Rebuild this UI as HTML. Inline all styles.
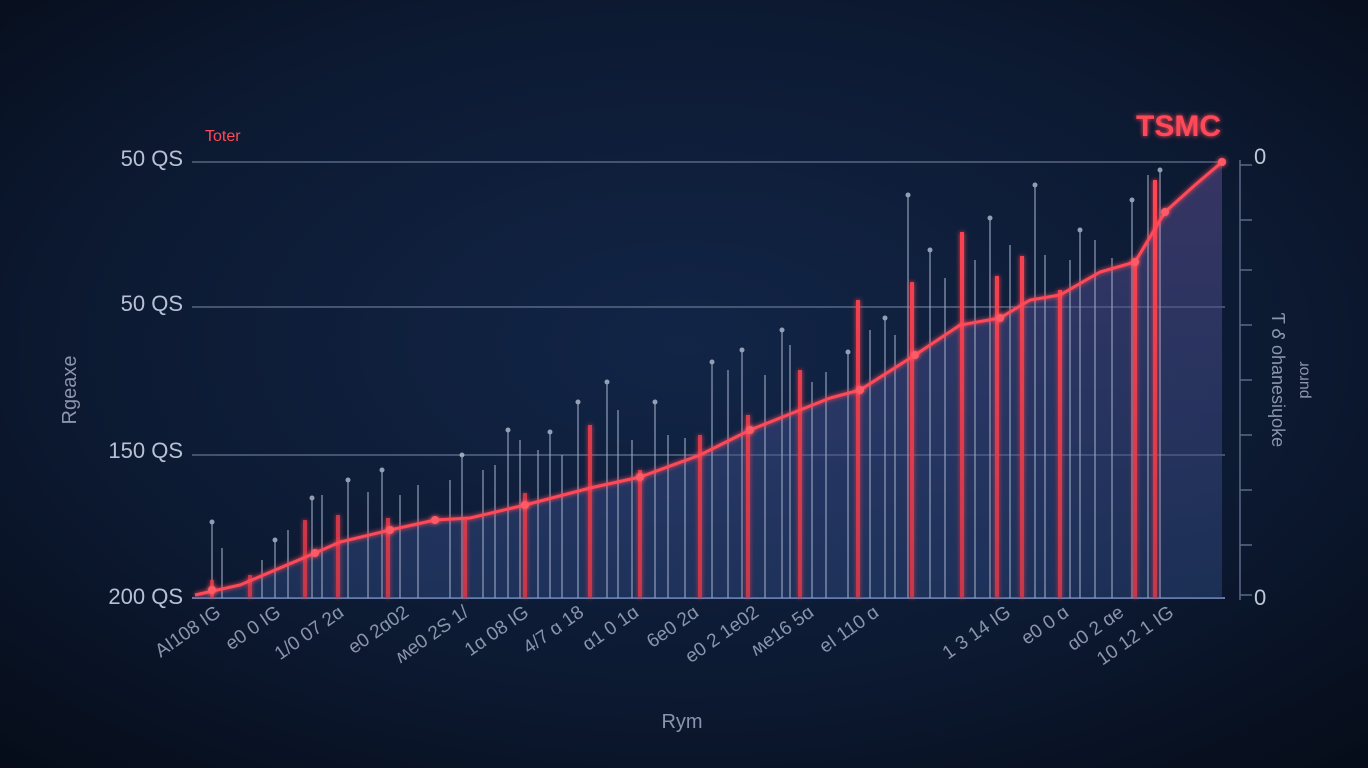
<!DOCTYPE html>
<html><head><meta charset="utf-8"><style>
html,body{margin:0;padding:0;width:1368px;height:768px;overflow:hidden;background:#0a1426}
svg{display:block}
text{font-family:"Liberation Sans",sans-serif}
</style></head><body>
<svg width="1368" height="768" viewBox="0 0 1368 768">
<defs>
<radialGradient id="bg" cx="50%" cy="45%" r="75%">
<stop offset="0" stop-color="#122547"/><stop offset="0.6" stop-color="#0c1931"/><stop offset="1" stop-color="#060c18"/>
</radialGradient>
<linearGradient id="fill" x1="0" y1="0" x2="0" y2="1">
<stop offset="0" stop-color="#5a4a8a" stop-opacity="0.55"/><stop offset="1" stop-color="#34528f" stop-opacity="0.4"/>
</linearGradient>
<linearGradient id="rb" gradientUnits="userSpaceOnUse" x1="0" y1="200" x2="0" y2="598">
<stop offset="0" stop-color="#ff4452"/><stop offset="1" stop-color="#e03848" stop-opacity="0.75"/>
</linearGradient>
<filter id="glow" filterUnits="userSpaceOnUse" x="0" y="0" width="1368" height="768"><feGaussianBlur stdDeviation="2.5" result="b"/><feMerge><feMergeNode in="b"/><feMergeNode in="SourceGraphic"/></feMerge></filter>
</defs>
<rect width="1368" height="768" fill="url(#bg)"/>
<g stroke="#8a9ab8" stroke-width="1.3" opacity="0.7">
<line x1="192" y1="162" x2="1225" y2="162"/>
<line x1="192" y1="307" x2="1225" y2="307"/>
<line x1="192" y1="455" x2="1225" y2="455"/>
<line x1="192" y1="598" x2="1225" y2="598" stroke="#8aa4e0" stroke-width="2"/>
</g>
<g stroke="#5a6a88" stroke-width="1.5">
<line x1="1240" y1="160" x2="1240" y2="600"/>
<line x1="1240" y1="165" x2="1252" y2="165"/><line x1="1240" y1="220" x2="1252" y2="220"/>
<line x1="1240" y1="270" x2="1252" y2="270"/><line x1="1240" y1="325" x2="1252" y2="325"/>
<line x1="1240" y1="380" x2="1252" y2="380"/><line x1="1240" y1="435" x2="1252" y2="435"/>
<line x1="1240" y1="490" x2="1252" y2="490"/><line x1="1240" y1="545" x2="1252" y2="545"/>
<line x1="1240" y1="595" x2="1252" y2="595"/>
</g>
<path d="M195,598 L195,595 L240,585 L315,553 L340,542 L390,530 L435,520 L470,518 L525,505 L590,488 L640,477 L700,455 L750,430 L800,410 L830,398 L860,390 L915,355 L960,325 L1000,318 L1030,300 L1060,295 L1100,272 L1135,262 L1165,212 L1195,185 L1222,162 L1222,598 Z" fill="url(#fill)"/>
<g stroke="#9aa6c0" stroke-width="1.5" opacity="0.75" fill="#c0c8dc">
<line x1="212" y1="522" x2="212" y2="598"/><line x1="222" y1="548" x2="222" y2="598"/>
<line x1="262" y1="560" x2="262" y2="598"/><line x1="275" y1="540" x2="275" y2="598"/>
<line x1="288" y1="530" x2="288" y2="598"/><line x1="312" y1="498" x2="312" y2="598"/>
<line x1="322" y1="495" x2="322" y2="598"/><line x1="348" y1="480" x2="348" y2="598"/>
<line x1="368" y1="492" x2="368" y2="598"/><line x1="382" y1="470" x2="382" y2="598"/>
<line x1="400" y1="495" x2="400" y2="598"/><line x1="418" y1="485" x2="418" y2="598"/>
<line x1="450" y1="480" x2="450" y2="598"/><line x1="462" y1="455" x2="462" y2="598"/>
<line x1="483" y1="470" x2="483" y2="598"/><line x1="495" y1="465" x2="495" y2="598"/>
<line x1="508" y1="430" x2="508" y2="598"/><line x1="520" y1="440" x2="520" y2="598"/>
<line x1="538" y1="450" x2="538" y2="598"/><line x1="550" y1="432" x2="550" y2="598"/>
<line x1="562" y1="455" x2="562" y2="598"/><line x1="578" y1="402" x2="578" y2="598"/>
<line x1="607" y1="382" x2="607" y2="598"/><line x1="618" y1="410" x2="618" y2="598"/>
<line x1="632" y1="440" x2="632" y2="598"/><line x1="655" y1="402" x2="655" y2="598"/>
<line x1="668" y1="435" x2="668" y2="598"/><line x1="685" y1="438" x2="685" y2="598"/>
<line x1="712" y1="362" x2="712" y2="598"/><line x1="728" y1="370" x2="728" y2="598"/>
<line x1="742" y1="350" x2="742" y2="598"/><line x1="765" y1="375" x2="765" y2="598"/>
<line x1="782" y1="330" x2="782" y2="598"/><line x1="790" y1="345" x2="790" y2="598"/>
<line x1="812" y1="382" x2="812" y2="598"/><line x1="826" y1="372" x2="826" y2="598"/>
<line x1="848" y1="352" x2="848" y2="598"/><line x1="870" y1="330" x2="870" y2="598"/>
<line x1="885" y1="318" x2="885" y2="598"/><line x1="895" y1="335" x2="895" y2="598"/>
<line x1="908" y1="195" x2="908" y2="598"/><line x1="930" y1="250" x2="930" y2="598"/>
<line x1="945" y1="278" x2="945" y2="598"/><line x1="975" y1="260" x2="975" y2="598"/>
<line x1="990" y1="218" x2="990" y2="598"/><line x1="1010" y1="245" x2="1010" y2="598"/>
<line x1="1035" y1="185" x2="1035" y2="598"/><line x1="1045" y1="255" x2="1045" y2="598"/>
<line x1="1070" y1="260" x2="1070" y2="598"/><line x1="1080" y1="230" x2="1080" y2="598"/>
<line x1="1095" y1="240" x2="1095" y2="598"/><line x1="1112" y1="258" x2="1112" y2="598"/>
<line x1="1132" y1="200" x2="1132" y2="598"/><line x1="1148" y1="175" x2="1148" y2="598"/>
<line x1="1160" y1="170" x2="1160" y2="598"/>
<g stroke="none">
<circle cx="212" cy="522" r="2.5"/><circle cx="275" cy="540" r="2.5"/><circle cx="312" cy="498" r="2.5"/>
<circle cx="348" cy="480" r="2.5"/><circle cx="382" cy="470" r="2.5"/><circle cx="462" cy="455" r="2.5"/>
<circle cx="508" cy="430" r="2.5"/><circle cx="550" cy="432" r="2.5"/><circle cx="578" cy="402" r="2.5"/>
<circle cx="607" cy="382" r="2.5"/><circle cx="655" cy="402" r="2.5"/><circle cx="712" cy="362" r="2.5"/>
<circle cx="742" cy="350" r="2.5"/><circle cx="782" cy="330" r="2.5"/><circle cx="848" cy="352" r="2.5"/>
<circle cx="885" cy="318" r="2.5"/><circle cx="908" cy="195" r="2.5"/><circle cx="930" cy="250" r="2.5"/>
<circle cx="990" cy="218" r="2.5"/><circle cx="1035" cy="185" r="2.5"/><circle cx="1080" cy="230" r="2.5"/>
<circle cx="1132" cy="200" r="2.5"/><circle cx="1160" cy="170" r="2.5"/>
</g>
</g>
<g fill="url(#rb)" filter="url(#glow)">
<rect x="210" y="580" width="4" height="18"/><rect x="248" y="575" width="4" height="23"/>
<rect x="303" y="520" width="4" height="78"/><rect x="336" y="515" width="4" height="83"/>
<rect x="386" y="518" width="4" height="80"/><rect x="463" y="520" width="4" height="78"/>
<rect x="523" y="493" width="4" height="105"/><rect x="588" y="425" width="4" height="173"/>
<rect x="638" y="470" width="4" height="128"/><rect x="698" y="435" width="4" height="163"/>
<rect x="746" y="415" width="4" height="183"/><rect x="798" y="370" width="4" height="228"/>
<rect x="856" y="300" width="4" height="298"/><rect x="910" y="282" width="4" height="316"/>
<rect x="960" y="232" width="4" height="366"/><rect x="995" y="276" width="4" height="322"/>
<rect x="1020" y="256" width="4" height="342"/><rect x="1058" y="290" width="4" height="308"/>
<rect x="1133" y="262" width="4" height="336"/><rect x="1153" y="180" width="4" height="418"/>
</g>
<polyline points="195,595 240,585 315,553 340,542 390,530 435,520 470,518 525,505 590,488 640,477 700,455 750,430 800,410 830,398 860,390 915,355 960,325 1000,318 1030,300 1060,295 1100,272 1135,262 1165,212 1195,185 1222,162" fill="none" stroke="#ff4a58" stroke-width="3" filter="url(#glow)"/>
<g fill="#ff5a66" filter="url(#glow)">
<circle cx="212" cy="590" r="4"/><circle cx="315" cy="553" r="4"/><circle cx="390" cy="530" r="4"/>
<circle cx="435" cy="520" r="4"/><circle cx="525" cy="505" r="4"/><circle cx="640" cy="477" r="4"/>
<circle cx="750" cy="430" r="4"/><circle cx="860" cy="390" r="4"/><circle cx="915" cy="355" r="4"/>
<circle cx="1000" cy="318" r="4"/><circle cx="1135" cy="262" r="4"/><circle cx="1165" cy="212" r="4"/>
<circle cx="1222" cy="162" r="4"/>
</g>
<g fill="#b8c0d4" font-size="22" text-anchor="end">
<text x="183" y="166">50 QS</text><text x="183" y="311">50 QS</text>
<text x="183" y="458">150 QS</text><text x="183" y="604">200 QS</text>
</g>
<g fill="#c0c8d8" font-size="22">
<text x="1254" y="164">0</text><text x="1254" y="605">0</text>
</g>
<text x="1136" y="136" fill="#ff4a58" font-size="30" font-weight="bold" filter="url(#glow)">TSMC</text>
<text x="205" y="141" fill="#ff4a58" font-size="16">Toter</text>
<text transform="translate(76,390) rotate(-90)" fill="#8a94ac" font-size="20" text-anchor="middle">Rgeaxe</text>
<text transform="translate(1272,380) rotate(90)" fill="#8a94ac" font-size="18" text-anchor="middle">Ƭ Ꮄ ohanesiɥoke</text>
<text transform="translate(1300,380) rotate(90)" fill="#8a94ac" font-size="16" text-anchor="middle">ɹoɹnd</text>
<text x="682" y="728" fill="#8a94ac" font-size="20" text-anchor="middle">Rym</text>
<g fill="#8a94ac" font-size="19" text-anchor="end">
<text transform="translate(222,615) rotate(-35)">AI108 IG</text>
<text transform="translate(282,615) rotate(-35)">e0 0 IG</text>
<text transform="translate(345,615) rotate(-35)">1/0 07 2ɑ</text>
<text transform="translate(410,615) rotate(-35)">e0 2ɑ02</text>
<text transform="translate(470,615) rotate(-35)">ʍe0 2S 1/</text>
<text transform="translate(530,615) rotate(-35)">1ɑ 08 IG</text>
<text transform="translate(585,615) rotate(-35)">4/7 ɑ 18</text>
<text transform="translate(640,615) rotate(-35)">ɑ1 0 1ɑ</text>
<text transform="translate(700,615) rotate(-35)">6e0 2ɑ</text>
<text transform="translate(760,615) rotate(-35)">e0 2 1e02</text>
<text transform="translate(815,615) rotate(-35)">ʍe16 5ɑ</text>
<text transform="translate(880,615) rotate(-35)">eI 110 ɑ</text>
<text transform="translate(1012,615) rotate(-35)">1 3 14 IG</text>
<text transform="translate(1070,615) rotate(-35)">e0 0 ɑ</text>
<text transform="translate(1125,615) rotate(-35)">ɑ0 2 ɑe</text>
<text transform="translate(1175,615) rotate(-35)">10 12 1 IG</text>
</g>
</svg>
</body></html>
